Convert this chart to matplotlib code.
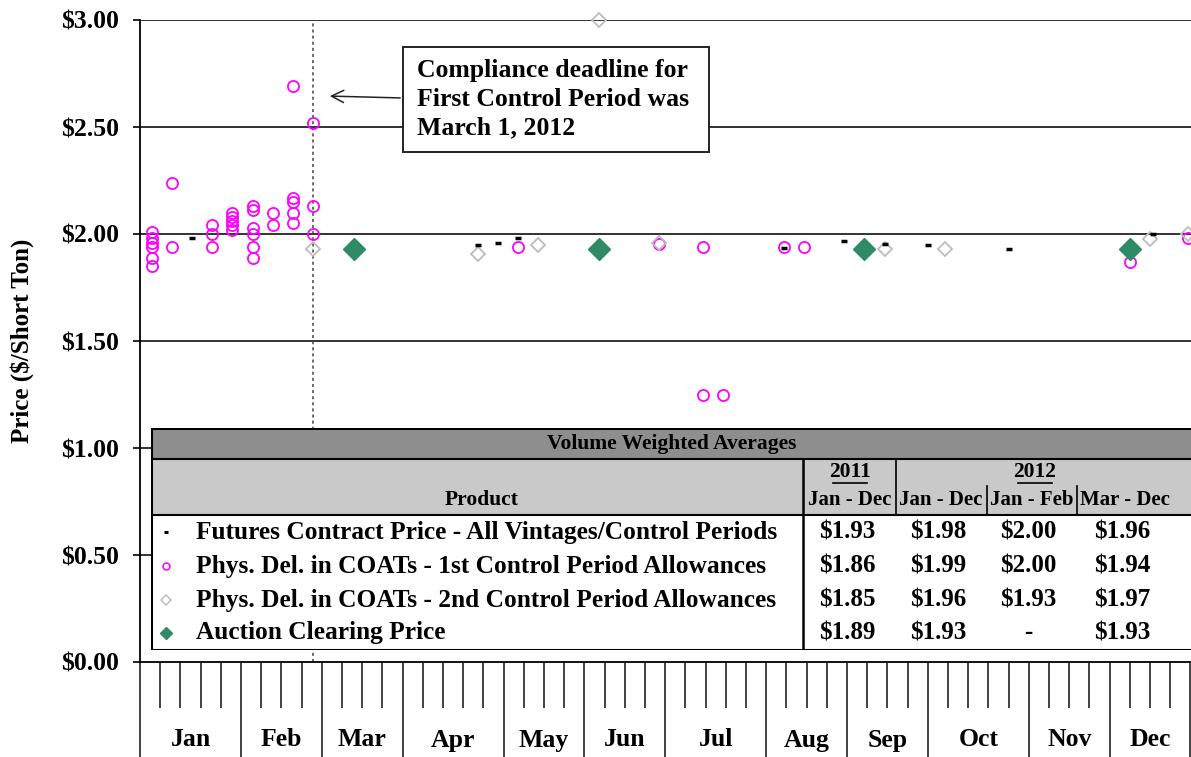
import matplotlib
matplotlib.use("Agg")
import matplotlib.pyplot as plt
from matplotlib.patches import Rectangle
import numpy as np
import pandas as pd

# --- Donnees (annee 2012) ---
pink_dates = ['2012-01-05', '2012-01-05', '2012-01-05', '2012-01-05', '2012-01-05', '2012-01-05',
              '2012-01-12', '2012-01-12',
              '2012-01-26', '2012-01-26', '2012-01-26',
              '2012-02-02', '2012-02-02', '2012-02-02', '2012-02-02', '2012-02-02',
              '2012-02-09', '2012-02-09', '2012-02-09', '2012-02-09', '2012-02-09', '2012-02-09',
              '2012-02-16', '2012-02-16',
              '2012-02-23', '2012-02-23', '2012-02-23', '2012-02-23', '2012-02-23',
              '2012-03-01', '2012-03-01', '2012-03-01',
              '2012-05-11', '2012-06-29', '2012-07-14', '2012-07-14', '2012-07-21',
              '2012-08-11', '2012-08-18', '2012-12-09', '2012-12-29']
pink_prices = [2.01, 1.98, 1.96, 1.94, 1.89, 1.85,
               2.24, 1.94,
               2.04, 2.00, 1.94,
               2.10, 2.08, 2.06, 2.04, 2.02,
               2.13, 2.11, 2.03, 2.00, 1.94, 1.89,
               2.10, 2.04,
               2.69, 2.17, 2.15, 2.10, 2.05,
               2.52, 2.13, 2.00,
               1.94, 1.955, 1.94, 1.25, 1.25,
               1.94, 1.94, 1.87, 1.98]

grey_dates = ['2012-03-01', '2012-04-27', '2012-05-18', '2012-06-08', '2012-06-29',
              '2012-09-15', '2012-10-06', '2012-12-16', '2012-12-29']
grey_prices = [1.93, 1.905, 1.95, 3.00, 1.96, 1.93, 1.93, 1.975, 2.00]

fut_dates = ['2012-01-19', '2012-04-27', '2012-05-04', '2012-05-11', '2012-08-11',
             '2012-09-01', '2012-09-15', '2012-09-30', '2012-10-28', '2012-12-17']
fut_prices = [1.98, 1.95, 1.96, 1.98, 1.935, 1.965, 1.955, 1.95, 1.93, 2.00]

auction_dates = ['2012-03-15', '2012-06-08', '2012-09-08', '2012-12-09']
auction_prices = [1.93, 1.93, 1.93, 1.93]

deadline_date = '2012-03-01'

months = ['Jan', 'Feb', 'Mar', 'Apr', 'May', 'Jun', 'Jul', 'Aug', 'Sep', 'Oct', 'Nov', 'Dec']
month_weeks = [5, 4, 4, 5, 4, 4, 5, 4, 4, 5, 4, 4]

products = ['Futures Contract Price - All Vintages/Control Periods',
            'Phys. Del. in COATs - 1st Control Period Allowances',
            'Phys. Del. in COATs - 2nd Control Period Allowances',
            'Auction Clearing Price']
avg_2011 = ['$1.93', '$1.86', '$1.85', '$1.89']
avg_2012_jan_dec = ['$1.98', '$1.99', '$1.96', '$1.93']
avg_2012_jan_feb = ['$2.00', '$2.00', '$1.93', '-']
avg_2012_mar_dec = ['$1.96', '$1.94', '$1.97', '$1.93']

# --- Style ---
W, H = 1191, 757
SERIF = ['Liberation Serif', 'DejaVu Serif']
PINK = '#FF00FF'
GREY = '#BDBDBD'
GREEN = '#2E8B66'
plt.rcParams['font.family'] = SERIF
plt.rcParams['font.weight'] = 'bold'


def day_of_year(dates):
    return np.array((pd.to_datetime(dates) - pd.Timestamp('2012-01-01')).days, dtype=float)


fig = plt.figure(figsize=(W / 100, H / 100), dpi=100)
ax = fig.add_axes([140 / W, 1 - 662 / H, (1191 - 140) / W, (662 - 20) / H])
ax.set_xlim(0, 364.2)
ax.set_ylim(0, 3)

# lignes horizontales
for yv in np.arange(0.5, 3.01, 0.5):
    ax.axhline(yv, color='#222222', lw=1.3, zorder=1)
for s in ['top', 'right']:
    ax.spines[s].set_visible(False)
ax.spines['left'].set_linewidth(1.3)
ax.spines['bottom'].set_linewidth(1.3)

# echeance de conformite
ax.axvline(day_of_year([deadline_date])[0], color='#444444', lw=1.1,
           linestyle=(0, (2, 2)), zorder=1.5)

# series
ax.plot(day_of_year(fut_dates), fut_prices, linestyle='none', marker='_', ms=4,
        mew=2.5, color='black', zorder=4, clip_on=False)
ax.plot(day_of_year(pink_dates), pink_prices, linestyle='none', marker='o', ms=8,
        mfc='none', mec=PINK, mew=1.3, zorder=3, clip_on=False)
ax.plot(day_of_year(grey_dates), grey_prices, linestyle='none', marker='D', ms=7.5,
        mfc='none', mec=GREY, mew=1.3, zorder=3, clip_on=False)
ax.plot(day_of_year(auction_dates), auction_prices, linestyle='none', marker='D', ms=11.5,
        color=GREEN, zorder=3, clip_on=False)

# axe Y
ax.set_yticks(np.arange(0, 3.01, 0.5))
ax.set_yticklabels(['${:.2f}'.format(v) for v in np.arange(0, 3.01, 0.5)])
ax.tick_params(axis='y', direction='out', length=5, width=1.2, pad=10, labelsize=18.5)
ax.set_ylabel('Price ($/Short Ton)', fontsize=18, fontweight='bold')
ax.yaxis.set_label_coords(-106 / (1191 - 140), 0.5)

# axe X : semaines, separations de mois
bounds = np.concatenate([[0], np.cumsum(month_weeks)])
all_weeks = np.arange(0, bounds[-1] + 1)
major_days = bounds * 7.0
minor_days = np.array([w * 7.0 for w in all_weeks if w not in bounds])
ax.set_xticks(major_days)
ax.set_xticklabels([])
ax.set_xticks(minor_days, minor=True)
ax.tick_params(axis='x', which='major', direction='out', length=75, width=1.2, color='#222222')
ax.tick_params(axis='x', which='minor', direction='out', length=33, width=1.2, color='#222222')
for i, m in enumerate(months):
    mid = (major_days[i] + major_days[i + 1]) / 2
    ax.text(mid, -78 / 642, m, transform=ax.get_xaxis_transform(), ha='center',
            va='center', fontsize=18.5, fontweight='bold')

# --- boite d'annotation ---
fig.add_artist(Rectangle((403 / W, 1 - 152 / H), (709 - 403) / W, (152 - 47) / H,
                         transform=fig.transFigure, facecolor='white',
                         edgecolor='#222222', lw=1.4, zorder=5))
fig.text(417 / W, 1 - 99 / H, 'Compliance deadline for\nFirst Control Period was\nMarch 1, 2012',
         ha='left', va='center', fontsize=18.5, fontweight='bold', linespacing=1.3, zorder=6)
ax.annotate('', xy=(327, H - 96), xytext=(403, H - 98), xycoords='figure pixels',
            textcoords='figure pixels',
            arrowprops=dict(arrowstyle='->', lw=1.1, color='#222222', mutation_scale=22),
            zorder=6)

# --- tableau des moyennes ---
tab = fig.add_axes([151 / W, 1 - 650 / H, (1200 - 151) / W, (650 - 428) / H], zorder=5)
tab.set_xlim(151, 1200)
tab.set_ylim(650, 428)
tab.axis('off')
tab.add_patch(Rectangle((151, 428), 1049, 31, facecolor='#8E8E8E', edgecolor='none'))
tab.add_patch(Rectangle((151, 459), 1049, 56, facecolor='#C9C9C9', edgecolor='none'))
tab.add_patch(Rectangle((151, 515), 1049, 135, facecolor='white', edgecolor='none'))
tab.add_patch(Rectangle((151, 428), 1049, 222, facecolor='none', edgecolor='black', lw=2.2))
tab.plot([151, 1200], [459, 459], color='black', lw=1.5)
tab.plot([151, 1200], [515, 515], color='black', lw=1.5)
tab.plot([803, 803], [459, 650], color='black', lw=1.8)
tab.plot([896, 896], [459, 515], color='black', lw=1.2)
tab.plot([987, 987], [486, 515], color='black', lw=1.2)
tab.plot([1077, 1077], [486, 515], color='black', lw=1.2)

tab.text(672, 444, 'Volume Weighted Averages', ha='center', va='center', fontsize=15.5)
tab.text(482, 500, 'Product', ha='center', va='center', fontsize=15.5)
tab.text(850, 472, '2011', ha='center', va='center', fontsize=15.5)
tab.plot([833, 867], [483, 483], color='black', lw=1.2)
tab.text(1035, 472, '2012', ha='center', va='center', fontsize=15.5)
tab.plot([1018, 1052], [483, 483], color='black', lw=1.2)
col_x = [850, 941, 1032, 1125]
for x, lab in zip(col_x, ['Jan - Dec', 'Jan - Dec', 'Jan - Feb', 'Mar - Dec']):
    tab.text(x, 500, lab, ha='center', va='center', fontsize=15)

row_y = [532, 566, 600, 633]
val_x = [847, 938, 1028, 1122]
for i, (label, y) in enumerate(zip(products, row_y)):
    tab.text(196, y, label, ha='left', va='center', fontsize=18.3)
    vals = [avg_2011[i], avg_2012_jan_dec[i], avg_2012_jan_feb[i], avg_2012_mar_dec[i]]
    for x, v in zip(val_x, vals):
        tab.text(x, y, v, ha='center', va='center', fontsize=18)

# symboles de legende
tab.plot([166], [row_y[0]], marker='_', ms=3, mew=2.2, color='black')
tab.plot([166], [row_y[1]], marker='o', ms=5, mfc='none', mec=PINK, mew=1.1)
tab.plot([166], [row_y[2]], marker='D', ms=5, mfc='none', mec=GREY, mew=1.1)
tab.plot([166], [row_y[3]], marker='D', ms=6, color=GREEN)

fig.savefig('out.png', dpi=100)
